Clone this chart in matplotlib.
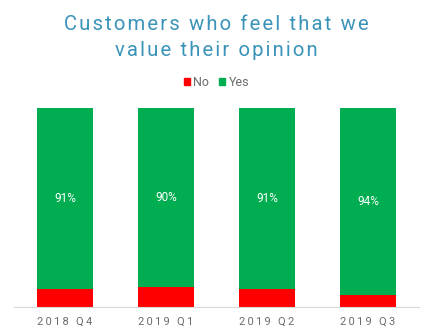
import matplotlib
matplotlib.use("Agg")
import matplotlib.pyplot as plt
from matplotlib.patches import Patch

# data
quarters = ["2018 Q4", "2019 Q1", "2019 Q2", "2019 Q3"]
no_pct = [9, 10, 9, 6]
yes_pct = [91, 90, 91, 94]

red = "#ff0000"
green = "#00ad50"
title_color = "#3a93b8"
grey = "#6b6b6b"

plt.rcParams["font.family"] = ["Roboto", "DejaVu Sans"]


def spaced(s, gap="\u200a"):
    # fake letter spacing
    return gap.join(s)


fig = plt.figure(figsize=(4.33, 3.36), dpi=100)
ax = fig.add_axes([14 / 433, 29 / 336, 405 / 433, 199 / 336])

x = range(len(quarters))
ax.bar(x, no_pct, width=0.554, color=red, label="No")
ax.bar(x, yes_pct, width=0.554, bottom=no_pct, color=green, label="Yes")

for i in x:
    ax.text(i, no_pct[i] + yes_pct[i] / 2, f"{yes_pct[i]}%", ha="center", va="center",
            color="white", fontsize=8.5)

ax.set_xlim(-0.505, 3.505)
ax.set_ylim(0, 100)
ax.set_yticks([])
ax.set_xticks(list(x))
ax.set_xticklabels([spaced(q, "\u200a\u200a") for q in quarters], color=grey, fontsize=8)
ax.tick_params(axis="x", length=0, pad=7)
for side in ["top", "right", "left"]:
    ax.spines[side].set_visible(False)
ax.spines["bottom"].set_color("#d9d9d9")

fig.text(0.5, 311 / 336, spaced("Customers who feel that we"), ha="center", va="center",
         color=title_color, fontsize=14.6)
fig.text(0.5, 285 / 336, spaced("value their opinion"), ha="center", va="center",
         color=title_color, fontsize=14.6)

handles = [Patch(color=red, label="No"), Patch(color=green, label="Yes")]
fig.legend(handles=handles, loc="center", bbox_to_anchor=(0.5, 254 / 336), ncol=2,
           frameon=False, fontsize=9, handlelength=0.5, handleheight=0.5,
           handletextpad=0.25, columnspacing=0.8, labelcolor=grey)

fig.savefig("out.png", dpi=100)
